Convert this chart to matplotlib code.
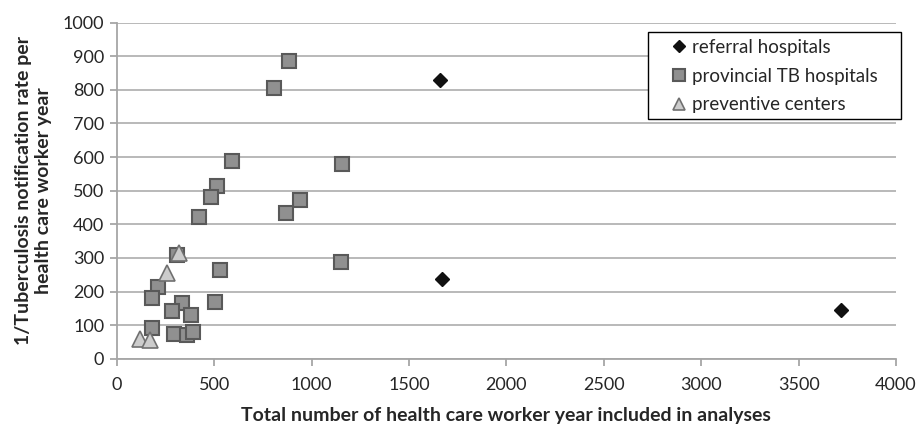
import matplotlib
matplotlib.use("Agg")
import matplotlib.pyplot as plt
from matplotlib.patches import Rectangle

plt.rcParams['font.family'] = ['Lato', 'DejaVu Sans']

# Data
ref_x = [1660, 1670, 3717]
ref_y = [829, 238, 146]

prov_x = [886, 806, 590, 1157, 513, 482, 940, 867, 424, 308, 1152, 530,
          213, 181, 335, 503, 282, 383, 183, 292, 360, 393]
prov_y = [886, 805, 587, 578, 513, 481, 471, 433, 423, 310, 288, 265,
          214, 182, 167, 168, 141, 129, 92, 73, 72, 80]

prev_x = [321, 260, 120, 171]
prev_y = [315, 255, 58, 56]

x_ticks = [0, 500, 1000, 1500, 2000, 2500, 3000, 3500, 4000]
y_ticks = [0, 100, 200, 300, 400, 500, 600, 700, 800, 900, 1000]

fig = plt.figure(figsize=(9.19, 4.24), dpi=100)
ax = fig.add_axes([0.127, 0.154, 0.848, 0.7925])

ax.set_xlim(0, 4000)
ax.set_ylim(0, 1000)
ax.set_xticks(x_ticks)
ax.set_yticks(y_ticks)

ax.yaxis.grid(True, color='#b3b3b3', linewidth=1.3, zorder=0)
ax.set_axisbelow(True)

for s in ['top', 'right']:
    ax.spines[s].set_visible(False)
for s in ['left', 'bottom']:
    ax.spines[s].set_color('#a6a6a6')
    ax.spines[s].set_linewidth(1.3)

ax.tick_params(axis='both', colors='#a6a6a6', length=5, width=1.3,
               labelcolor='#262626', labelsize=13)
ax.tick_params(axis='x', pad=8)
ax.tick_params(axis='y', pad=4)

ax.plot(ref_x, ref_y, linestyle='none', marker='D', markersize=7.5,
        markerfacecolor='#111111', markeredgecolor='#111111',
        label='referral hospitals', zorder=3)
ax.plot(prov_x, prov_y, linestyle='none', marker='s', markersize=10.5,
        markerfacecolor='#909090', markeredgecolor='#595959', markeredgewidth=1.5,
        label='provincial TB hospitals', zorder=3)
ax.plot(prev_x, prev_y, linestyle='none', marker='^', markersize=11,
        markerfacecolor='#cccccc', markeredgecolor='#707070', markeredgewidth=1.2,
        label='preventive centers', zorder=4)

ax.set_xlabel('Total number of health care worker year included in analyses',
              fontsize=14, fontweight='bold', color='#262626', labelpad=10)
ax.set_ylabel('1/Tuberculosis notification rate per\nhealth care worker year',
              fontsize=14, fontweight='bold', color='#262626', labelpad=8,
              linespacing=1.2)

# legend box (Excel-style, fixed padding)
fig.patches.append(Rectangle((0.705, 0.7193), 0.2753, 0.206,
                             transform=fig.transFigure, facecolor='white',
                             edgecolor='black', linewidth=1.0, zorder=5))
leg = fig.legend(loc='upper left', bbox_to_anchor=(0.7283, 0.908), fontsize=13.5,
                 frameon=False, handlelength=1.0, handletextpad=0.2,
                 borderpad=0, labelspacing=0.62, markerscale=0.8,
                 borderaxespad=0)
leg.set_zorder(6)
for t in leg.get_texts():
    t.set_color('#262626')

fig.savefig('out.png', dpi=100)
